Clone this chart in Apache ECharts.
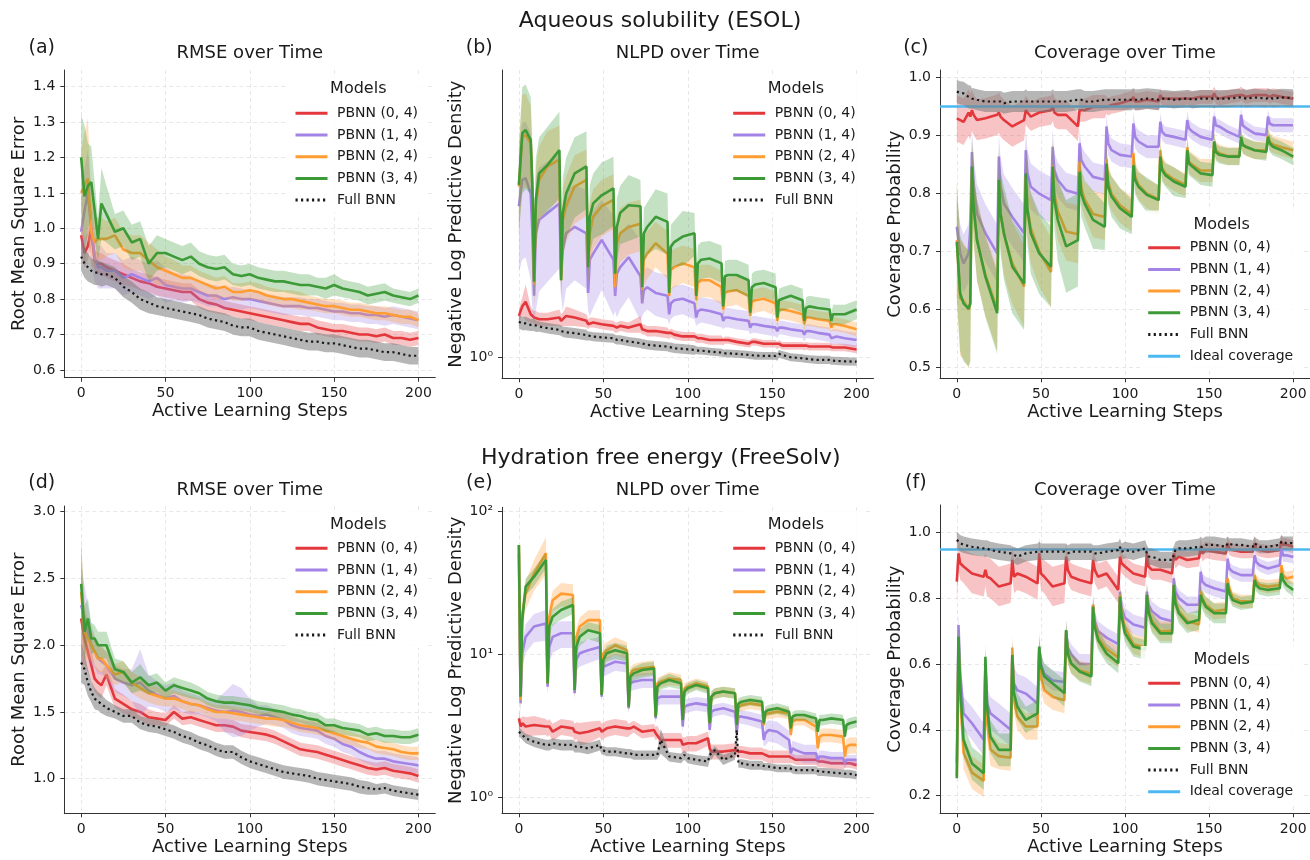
<!DOCTYPE html>
<html>
<head>
<meta charset="utf-8">
<title>PBNN active learning</title>
<script src="https://cdn.jsdelivr.net/npm/echarts@6/dist/echarts.min.js"></script>
<style>
  html, body { margin: 0; padding: 0; background: #fff; }
  #chart { width: 1310px; height: 860px; }
</style>
</head>
<body>
<div id="chart"></div>
<script>
// ---- x positions (active learning steps) ----
var stepsRmse = [0,2,4,6,8,10,12,15,20,25,30,35,40,45,50,55,60,65,70,75,80,85,90,95,100,
  105,110,115,120,125,130,135,140,145,150,155,160,165,170,175,180,185,190,195,200];
var stepsEsol = [0,2,4,7,8, 9,10,12,17,24, 25,26,28,33,40, 41,42,44,49,56, 57,58,60,65,72,
  73,74,76,81,88, 89,90,92,97,104, 105,106,108,113,120, 121,122,124,129,136, 137,138,140,145,152,
  153,154,156,161,168, 169,170,172,177,184, 185,186,188,193,200];
var stepsFree = [0, 1,2,4,9,16, 17,18,20,25,32, 33,34,36,41,48, 49,50,52,57,64, 65,66,68,73,80,
  81,82,84,89,96, 97,98,100,105,112, 113,114,116,121,128, 129,130,132,137,144, 145,146,148,153,160,
  161,162,164,169,176, 177,178,180,185,192, 193,194,196,200];

var modelNames = ['PBNN (0, 4)', 'PBNN (1, 4)', 'PBNN (2, 4)', 'PBNN (3, 4)', 'Full BNN'];
var idealCoverage = 0.95;

// ---- (a) ESOL RMSE ----
var esolRmseP0 = [0.98,0.93,0.95,1.00,0.91,0.90,0.90,0.89,0.88,0.87,0.86,0.85,0.845,0.835,0.83,0.825,0.82,0.82,0.80,0.79,
  0.785,0.775,0.77,0.765,0.76,0.755,0.75,0.745,0.74,0.735,0.73,0.73,0.72,0.715,0.71,0.71,0.705,0.70,0.70,0.695,0.70,0.69,0.69,0.685,0.69];
var esolRmseP1 = [0.99,1.05,1.10,1.00,0.92,0.89,0.89,0.88,0.88,0.86,0.87,0.86,0.85,0.86,0.84,0.835,0.83,0.83,0.82,0.81,
  0.81,0.80,0.805,0.80,0.80,0.795,0.79,0.785,0.78,0.78,0.78,0.775,0.775,0.77,0.765,0.765,0.76,0.76,0.755,0.755,0.75,0.755,0.75,0.745,0.74];
var esolRmseP2 = [1.10,1.12,1.14,0.99,0.96,0.97,0.97,0.97,0.98,0.94,0.93,0.93,0.91,0.89,0.88,0.87,0.86,0.86,0.85,0.84,
  0.83,0.835,0.82,0.82,0.825,0.82,0.81,0.805,0.80,0.80,0.795,0.79,0.785,0.78,0.78,0.775,0.77,0.77,0.765,0.76,0.76,0.755,0.75,0.75,0.74];
var esolRmseP3 = [1.20,1.09,1.12,1.13,1.05,0.97,1.07,1.04,0.99,1.00,0.96,0.97,0.90,0.93,0.93,0.92,0.91,0.92,0.90,0.89,
  0.885,0.89,0.87,0.865,0.87,0.86,0.855,0.85,0.85,0.845,0.84,0.84,0.835,0.83,0.84,0.83,0.825,0.82,0.81,0.815,0.82,0.81,0.805,0.80,0.81];
var esolRmseFull = [0.92,0.90,0.89,0.88,0.875,0.875,0.87,0.87,0.86,0.835,0.82,0.80,0.79,0.78,0.775,0.77,0.765,0.76,0.755,0.745,
  0.74,0.735,0.725,0.72,0.72,0.71,0.705,0.70,0.695,0.69,0.685,0.68,0.68,0.675,0.675,0.67,0.665,0.66,0.66,0.655,0.65,0.65,0.645,0.64,0.64];
var esolRmseP0Sd = [0.05,0.04,0.04,0.05,0.03,0.03,0.03,0.03,0.03,0.03,0.025,0.025,0.025,0.025,0.025,0.025,0.025,0.025,0.025,0.025,
  0.025,0.02,0.02,0.02,0.02,0.02,0.02,0.02,0.02,0.02,0.02,0.02,0.02,0.02,0.02,0.02,0.02,0.02,0.02,0.02,0.02,0.02,0.02,0.02,0.02];
var esolRmseP1Sd = [0.08,0.12,0.12,0.1,0.07,0.06,0.06,0.05,0.05,0.05,0.05,0.05,0.05,0.05,0.05,0.04,0.04,0.035,0.03,0.03,
  0.03,0.03,0.03,0.03,0.025,0.025,0.025,0.025,0.025,0.025,0.025,0.025,0.025,0.025,0.025,0.025,0.025,0.025,0.025,0.025,0.025,0.025,0.025,0.025,0.025];
var esolRmseP2Sd = [0.12,0.15,0.17,0.1,0.07,0.06,0.06,0.05,0.05,0.05,0.05,0.05,0.05,0.05,0.04,0.04,0.035,0.035,0.03,0.03,
  0.03,0.03,0.025,0.025,0.025,0.025,0.025,0.025,0.025,0.025,0.025,0.02,0.02,0.02,0.02,0.02,0.02,0.02,0.02,0.02,0.02,0.02,0.02,0.02,0.02];
var esolRmseP3Sd = [0.12,0.2,0.12,0.1,0.08,0.06,0.1,0.08,0.05,0.05,0.05,0.05,0.05,0.05,0.04,0.04,0.04,0.04,0.035,0.035,
  0.035,0.035,0.03,0.03,0.03,0.03,0.03,0.03,0.03,0.03,0.03,0.03,0.025,0.03,0.03,0.025,0.025,0.025,0.025,0.025,0.025,0.02,0.02,0.02,0.02];
var esolRmseFullSd = [0.04,0.04,0.04,0.035,0.035,0.035,0.035,0.03,0.03,0.03,0.03,0.03,0.03,0.025,0.025,0.025,0.025,0.025,0.025,0.025,
  0.025,0.025,0.025,0.025,0.025,0.025,0.025,0.025,0.025,0.025,0.025,0.025,0.025,0.025,0.025,0.025,0.025,0.025,0.025,0.025,0.025,0.025,0.025,0.025,0.025];

// ---- (b) ESOL NLPD ----
var esolNlpdP0 = [1.23,1.29,1.32,1.24,1.23, 1.22,1.22,1.21,1.21,1.22, 1.20,1.21,1.23,1.22,1.20, 1.18,1.19,1.19,1.18,1.17,
  1.16,1.16,1.17,1.16,1.18, 1.15,1.15,1.14,1.14,1.13, 1.12,1.13,1.12,1.11,1.11, 1.10,1.10,1.10,1.09,1.09,
  1.08,1.09,1.09,1.08,1.07, 1.07,1.08,1.08,1.07,1.07, 1.06,1.07,1.06,1.06,1.06, 1.055,1.06,1.055,1.055,1.055, 1.05,1.05,1.05,1.05,1.04];
var esolNlpdP1 = [2.13,2.43,2.45,2.27,1.86, 1.36,1.86,1.99,2.06,2.16, 1.50,1.71,1.86,1.92,1.86, 1.38,1.63,1.68,1.80,1.63,
  1.36,1.52,1.57,1.65,1.50, 1.31,1.40,1.42,1.38,1.36, 1.24,1.31,1.33,1.34,1.31, 1.22,1.26,1.27,1.26,1.24,
  1.20,1.22,1.22,1.21,1.20, 1.16,1.18,1.18,1.17,1.16, 1.14,1.16,1.16,1.15,1.14, 1.12,1.14,1.14,1.13,1.12, 1.10,1.11,1.11,1.10,1.09];
var esolNlpdP2 = [2.35,3.02,3.04,2.92,2.35, 1.44,2.13,2.43,2.60,2.69, 1.47,1.99,2.13,2.35,2.43, 1.57,1.86,2.02,2.13,2.20,
  1.42,1.77,1.86,1.92,1.95, 1.40,1.63,1.68,1.77,1.68, 1.36,1.55,1.57,1.60,1.57, 1.33,1.45,1.47,1.47,1.42,
  1.27,1.38,1.39,1.40,1.36, 1.23,1.32,1.33,1.34,1.31, 1.20,1.27,1.27,1.26,1.24, 1.18,1.22,1.22,1.21,1.20, 1.16,1.18,1.18,1.17,1.15];
var esolNlpdP3 = [2.37,3.07,3.12,2.97,2.35, 1.46,2.20,2.51,2.62,2.82, 1.47,2.06,2.27,2.51,2.60, 1.57,2.02,2.16,2.25,2.33,
  1.52,1.92,2.06,2.14,2.13, 1.42,1.86,1.92,2.02,1.97, 1.38,1.74,1.78,1.83,1.86, 1.36,1.60,1.63,1.64,1.60,
  1.29,1.50,1.51,1.51,1.47, 1.25,1.42,1.44,1.45,1.42, 1.22,1.33,1.34,1.36,1.33, 1.20,1.28,1.29,1.28,1.27, 1.20,1.24,1.24,1.24,1.27];
var esolNlpdFull = [1.195,1.185,1.185,1.176,1.176, 1.176,1.17,1.166,1.157,1.147, 1.143,1.137,1.133,1.128,1.118, 1.113,1.113,1.109,1.105,1.10,
  1.094,1.091,1.091,1.082,1.073, 1.069,1.069,1.064,1.06,1.055, 1.051,1.051,1.046,1.043,1.037, 1.037,1.034,1.034,1.029,1.024,
  1.02,1.02,1.02,1.017,1.012, 1.01,1.01,1.008,1.007,1.007, 1.003,1.017,1.012,1.0,0.995, 0.993,0.993,0.99,0.987,0.987, 0.983,0.983,0.982,0.98,0.978];
var esolNlpdP0Sd = [0.04,0.06,0.12,0.05,0.04, 0.04,0.04,0.04,0.04,0.05, 0.04,0.04,0.06,0.05,0.04, 0.03,0.03,0.03,0.03,0.03,
  0.03,0.03,0.03,0.03,0.05, 0.03,0.03,0.03,0.03,0.03, 0.025,0.025,0.025,0.025,0.025, 0.025,0.025,0.025,0.025,0.025,
  0.02,0.02,0.02,0.02,0.02, 0.02,0.02,0.02,0.02,0.02, 0.02,0.02,0.02,0.02,0.02, 0.02,0.02,0.02,0.02,0.02, 0.02,0.02,0.02,0.02,0.02];
var esolNlpdP1Sd = [0.6,0.8,0.8,0.8,0.6, 0.15,0.6,0.6,0.6,0.6, 0.15,0.45,0.45,0.45,0.45, 0.12,0.4,0.4,0.4,0.4,
  0.1,0.3,0.3,0.3,0.3, 0.08,0.15,0.15,0.15,0.15, 0.06,0.1,0.1,0.1,0.1, 0.05,0.08,0.08,0.08,0.08,
  0.05,0.06,0.06,0.06,0.06, 0.04,0.05,0.05,0.05,0.05, 0.04,0.04,0.04,0.04,0.04, 0.04,0.04,0.04,0.04,0.04, 0.04,0.04,0.04,0.04,0.04];
var esolNlpdP2Sd = [0.5,0.7,0.7,0.6,0.5, 0.15,0.45,0.45,0.5,0.5, 0.12,0.35,0.35,0.4,0.4, 0.12,0.3,0.3,0.3,0.3,
  0.1,0.25,0.25,0.25,0.25, 0.1,0.2,0.2,0.2,0.2, 0.08,0.15,0.15,0.15,0.15, 0.07,0.12,0.12,0.12,0.12,
  0.06,0.1,0.1,0.1,0.1, 0.05,0.08,0.08,0.08,0.08, 0.04,0.06,0.06,0.06,0.06, 0.04,0.05,0.05,0.05,0.05, 0.03,0.04,0.04,0.04,0.04];
var esolNlpdP3Sd = [0.5,0.8,0.8,0.7,0.5, 0.15,0.5,0.5,0.55,0.6, 0.12,0.4,0.45,0.5,0.5, 0.12,0.35,0.35,0.4,0.4,
  0.1,0.3,0.3,0.35,0.3, 0.1,0.25,0.25,0.3,0.3, 0.08,0.2,0.2,0.25,0.2, 0.08,0.15,0.15,0.15,0.15,
  0.06,0.12,0.12,0.12,0.12, 0.05,0.1,0.1,0.1,0.1, 0.05,0.08,0.08,0.08,0.08, 0.04,0.07,0.07,0.07,0.07, 0.04,0.06,0.06,0.06,0.06];
var esolNlpdFullSd = [0.04,0.04,0.04,0.035,0.035, 0.035,0.035,0.03,0.03,0.03, 0.03,0.03,0.03,0.03,0.03, 0.025,0.025,0.025,0.025,0.025,
  0.025,0.025,0.025,0.025,0.025, 0.025,0.025,0.025,0.025,0.025, 0.025,0.025,0.025,0.025,0.025, 0.02,0.02,0.02,0.02,0.02,
  0.02,0.02,0.02,0.02,0.02, 0.02,0.02,0.02,0.02,0.02, 0.02,0.02,0.02,0.02,0.02, 0.02,0.02,0.02,0.02,0.02, 0.02,0.02,0.02,0.02,0.02];

// ---- (c) ESOL coverage ----
var esolCovP0 = [0.93,0.927,0.924,0.94,0.933, 0.944,0.936,0.927,0.93,0.936, 0.94,0.933,0.927,0.916,0.927, 0.944,0.94,0.933,0.94,0.944,
  0.95,0.94,0.936,0.936,0.916, 0.944,0.944,0.944,0.95,0.95, 0.953,0.95,0.953,0.956,0.962, 0.967,0.959,0.959,0.962,0.959,
  0.97,0.964,0.964,0.964,0.964, 0.967,0.964,0.964,0.967,0.967, 0.973,0.967,0.964,0.967,0.97, 0.973,0.97,0.967,0.97,0.97, 0.97,0.967,0.97,0.967,0.964];
var esolCovP1 = [0.743,0.697,0.68,0.697,0.74, 0.872,0.812,0.766,0.732,0.697, 0.864,0.812,0.783,0.760,0.732, 0.875,0.835,0.812,0.80,0.789,
  0.881,0.841,0.824,0.806,0.80, 0.887,0.858,0.847,0.829,0.824, 0.916,0.887,0.875,0.867,0.864, 0.921,0.898,0.890,0.881,0.881,
  0.924,0.907,0.901,0.898,0.893, 0.927,0.913,0.907,0.898,0.893, 0.933,0.918,0.916,0.907,0.898, 0.936,0.918,0.913,0.904,0.901, 0.933,0.921,0.918,0.918,0.918];
var esolCovP2 = [0.72,0.62,0.615,0.60,0.61, 0.84,0.775,0.72,0.66,0.60, 0.82,0.765,0.73,0.68,0.64, 0.83,0.775,0.74,0.70,0.665,
  0.85,0.80,0.77,0.735,0.73, 0.855,0.81,0.79,0.765,0.76, 0.86,0.82,0.80,0.78,0.765, 0.87,0.83,0.815,0.80,0.79,
  0.875,0.845,0.835,0.825,0.815, 0.88,0.855,0.85,0.84,0.84, 0.89,0.875,0.87,0.865,0.865, 0.895,0.885,0.88,0.875,0.875, 0.90,0.89,0.885,0.88,0.875];
var esolCovP3 = [0.717,0.628,0.611,0.602,0.611, 0.847,0.778,0.720,0.657,0.594, 0.824,0.766,0.732,0.674,0.645, 0.835,0.772,0.732,0.697,0.674,
  0.847,0.789,0.755,0.709,0.72, 0.838,0.80,0.783,0.755,0.743, 0.852,0.812,0.795,0.775,0.760, 0.849,0.824,0.812,0.798,0.789,
  0.864,0.841,0.832,0.821,0.812, 0.875,0.852,0.847,0.835,0.832, 0.890,0.872,0.867,0.864,0.864, 0.898,0.884,0.881,0.875,0.872, 0.898,0.887,0.881,0.875,0.864];
var esolCovFull = [0.976,0.974,0.973,0.967,0.967, 0.964,0.964,0.962,0.959,0.959, 0.959,0.959,0.956,0.959,0.959, 0.962,0.959,0.959,0.959,0.959,
  0.962,0.959,0.959,0.959,0.962, 0.962,0.962,0.959,0.959,0.962, 0.962,0.962,0.962,0.962,0.962, 0.964,0.962,0.962,0.964,0.962,
  0.964,0.964,0.964,0.962,0.964, 0.964,0.964,0.962,0.964,0.964, 0.962,0.964,0.964,0.964,0.966, 0.964,0.966,0.964,0.966,0.964, 0.966,0.966,0.964,0.966,0.965];
var esolCovP0Sd = [0.04,0.04,0.04,0.04,0.04, 0.035,0.035,0.035,0.035,0.035, 0.035,0.035,0.035,0.035,0.035, 0.025,0.025,0.025,0.025,0.025,
  0.025,0.025,0.025,0.025,0.025, 0.02,0.02,0.02,0.02,0.02, 0.015,0.015,0.015,0.015,0.015, 0.015,0.015,0.015,0.015,0.015,
  0.012,0.012,0.012,0.012,0.012, 0.012,0.012,0.012,0.012,0.012, 0.012,0.012,0.012,0.012,0.012, 0.012,0.012,0.012,0.012,0.012, 0.012,0.012,0.012,0.012,0.012];
var esolCovP1Sd = [0.05,0.05,0.05,0.05,0.05, 0.04,0.05,0.05,0.05,0.05, 0.04,0.05,0.05,0.05,0.05, 0.04,0.04,0.04,0.04,0.04,
  0.03,0.03,0.03,0.03,0.03, 0.025,0.025,0.025,0.025,0.025, 0.02,0.02,0.02,0.02,0.02, 0.02,0.02,0.02,0.02,0.02,
  0.015,0.015,0.015,0.015,0.015, 0.015,0.015,0.015,0.015,0.015, 0.012,0.012,0.012,0.012,0.012, 0.012,0.012,0.012,0.012,0.012, 0.012,0.012,0.012,0.012,0.012];
var esolCovP2Sd = [0.1,0.1,0.1,0.1,0.1, 0.05,0.06,0.07,0.07,0.07, 0.05,0.06,0.07,0.07,0.07, 0.05,0.05,0.06,0.06,0.06,
  0.04,0.04,0.05,0.05,0.05, 0.03,0.03,0.03,0.04,0.04, 0.03,0.03,0.03,0.03,0.03, 0.025,0.025,0.025,0.025,0.025,
  0.02,0.02,0.02,0.02,0.02, 0.02,0.02,0.02,0.02,0.02, 0.015,0.015,0.015,0.015,0.015, 0.015,0.015,0.015,0.015,0.015, 0.015,0.015,0.015,0.015,0.015];
var esolCovP3Sd = [0.1,0.1,0.1,0.1,0.1, 0.05,0.06,0.07,0.07,0.07, 0.05,0.07,0.08,0.08,0.08, 0.05,0.06,0.07,0.07,0.07,
  0.04,0.05,0.07,0.08,0.08, 0.04,0.04,0.04,0.05,0.04, 0.03,0.03,0.035,0.035,0.03, 0.025,0.025,0.025,0.03,0.025,
  0.02,0.02,0.02,0.025,0.02, 0.02,0.02,0.02,0.02,0.02, 0.015,0.015,0.015,0.015,0.015, 0.015,0.015,0.015,0.015,0.015, 0.015,0.015,0.015,0.015,0.015];
var esolCovFullSd = [0.02,0.02,0.02,0.02,0.02, 0.018,0.018,0.018,0.018,0.018, 0.018,0.018,0.018,0.018,0.018, 0.018,0.018,0.018,0.018,0.018,
  0.018,0.018,0.018,0.018,0.018, 0.018,0.018,0.018,0.018,0.018, 0.018,0.018,0.018,0.018,0.018, 0.018,0.018,0.018,0.018,0.018,
  0.015,0.015,0.015,0.015,0.015, 0.015,0.015,0.015,0.015,0.015, 0.015,0.015,0.015,0.015,0.015, 0.015,0.015,0.015,0.015,0.015, 0.015,0.015,0.015,0.015,0.015];

// ---- (d) FreeSolv RMSE ----
var freeRmseP0 = [2.20,2.05,1.95,1.85,1.75,1.72,1.70,1.78, 1.60,1.56,1.52,1.50,1.46,1.45,1.44,1.50,1.45,1.46,
  1.44,1.42,1.40,1.40,1.39,1.36,1.35,1.34,1.33,1.31, 1.28,1.25,1.22,1.21,1.20,1.18,1.16,1.14,1.12,1.10, 1.08,1.07,1.08,1.06,1.05,1.04,1.02];
var freeRmseP1 = [2.30,2.20,2.10,2.00,1.95,1.90,1.88,1.85, 1.75,1.72,1.70,1.72,1.66,1.63,1.60,1.62,1.58,1.56,
  1.55,1.53,1.51,1.50,1.51,1.50,1.48,1.47,1.48,1.46, 1.44,1.40,1.38,1.37,1.36,1.32,1.30,1.26,1.24,1.20, 1.17,1.15,1.15,1.13,1.12,1.11,1.10];
var freeRmseP2 = [2.40,2.10,2.05,2.00,1.95,1.90,1.90,1.85, 1.78,1.80,1.72,1.68,1.64,1.62,1.60,1.60,1.58,1.56,
  1.55,1.52,1.50,1.50,1.49,1.48,1.47,1.46,1.45,1.45, 1.44,1.42,1.40,1.39,1.38,1.36,1.34,1.32,1.30,1.28, 1.27,1.24,1.23,1.22,1.20,1.19,1.19];
var freeRmseP3 = [2.46,2.10,2.20,2.05,2.05,2.00,2.00,2.00, 1.82,1.80,1.72,1.76,1.70,1.72,1.66,1.70,1.68,1.66,
  1.64,1.60,1.58,1.57,1.57,1.56,1.55,1.53,1.52,1.51, 1.50,1.48,1.47,1.45,1.44,1.40,1.40,1.38,1.37,1.36, 1.33,1.34,1.32,1.32,1.31,1.31,1.33];
var freeRmseFull = [1.87,1.82,1.72,1.65,1.60,1.58,1.56,1.53, 1.50,1.47,1.47,1.42,1.40,1.39,1.37,1.35,1.32,1.30,
  1.27,1.25,1.22,1.20,1.20,1.16,1.13,1.11,1.09,1.07, 1.05,1.04,1.03,1.02,1.00,0.99,0.98,0.97,0.96,0.94, 0.93,0.92,0.93,0.91,0.90,0.89,0.88];
var freeRmseP0Sd = [0.35,0.2,0.15,0.12,0.1,0.1,0.1,0.08, 0.07,0.07,0.06,0.06,0.06,0.05,0.05,0.05,0.05,0.05,
  0.05,0.05,0.05,0.05,0.05,0.05,0.05,0.05,0.05,0.05, 0.05,0.05,0.05,0.05,0.05,0.05,0.05,0.05,0.05,0.05, 0.05,0.05,0.05,0.05,0.05,0.05,0.05];
var freeRmseP1Sd = [0.3,0.25,0.2,0.15,0.12,0.12,0.1,0.1, 0.1,0.1,0.12,0.25,0.12,0.1,0.1,0.1,0.08,0.08,
  0.07,0.07,0.08,0.15,0.2,0.18,0.12,0.08,0.07,0.06, 0.06,0.06,0.06,0.06,0.06,0.06,0.06,0.06,0.06,0.06, 0.06,0.06,0.06,0.06,0.06,0.06,0.06];
var freeRmseP2Sd = [0.4,0.2,0.15,0.12,0.1,0.1,0.1,0.1, 0.08,0.08,0.08,0.08,0.07,0.07,0.06,0.06,0.06,0.06,
  0.05,0.05,0.05,0.05,0.05,0.05,0.05,0.05,0.05,0.06, 0.05,0.05,0.05,0.05,0.05,0.05,0.05,0.05,0.05,0.05, 0.05,0.05,0.05,0.05,0.05,0.05,0.05];
var freeRmseP3Sd = [0.3,0.2,0.15,0.12,0.1,0.1,0.1,0.1, 0.08,0.08,0.08,0.1,0.07,0.07,0.06,0.06,0.06,0.06,
  0.05,0.05,0.05,0.05,0.05,0.05,0.05,0.05,0.05,0.05, 0.05,0.05,0.05,0.05,0.05,0.05,0.05,0.05,0.05,0.05, 0.05,0.05,0.05,0.05,0.05,0.05,0.05];
var freeRmseFullSd = [0.15,0.12,0.1,0.08,0.08,0.07,0.07,0.06, 0.05,0.05,0.05,0.05,0.05,0.05,0.05,0.05,0.05,0.05,
  0.05,0.05,0.05,0.05,0.05,0.05,0.05,0.05,0.05,0.05, 0.05,0.05,0.05,0.05,0.05,0.05,0.05,0.05,0.05,0.05, 0.05,0.04,0.04,0.04,0.04,0.04,0.04];

// ---- (e) FreeSolv NLPD ----
var freeNlpdP0 = [3.57, 3.13,3.30,3.13,3.21,3.13, 3.04,3.13,2.88,3.13,3.04, 2.88,2.96,2.81,2.88,3.04, 2.88,2.96,3.04,3.13,3.04,
  2.96,3.04,3.13,2.88,2.96, 2.81,2.88,2.52,2.52,2.52, 2.33,2.33,2.39,2.39,2.59, 2.2,2.09,2.09,2.09,2.14,
  2.14,2.09,2.09,2.03,2.03, 1.98,1.98,1.93,1.93,1.93, 1.88,1.88,1.83,1.83,1.83, 1.78,1.78,1.78,1.73,1.73, 1.73,1.73,1.73,1.68];
var freeNlpdP1 = [51, 4.55,10.2,13.3,15.7,16.5, 5.96,11.3,13.3,14.1,14.1, 5.35,9.15,10.2,10.7,11.3, 5.07,8.2,8.4,8.9,8.66,
  4.2,6.28,6.45,6.63,6.63, 3.57,4.93,5.07,5.07,5.07, 3.13,4.31,4.42,4.55,4.42, 2.96,3.98,4.09,4.2,3.98,
  2.81,3.67,3.67,3.57,3.39, 2.52,2.81,2.96,2.88,2.52, 2.03,2.2,2.14,2.03,2.03, 1.83,1.93,1.93,1.88,1.88, 1.73,1.83,1.83,1.83];
var freeNlpdP2 = [58.4, 4.8,19.4,26.7,37.0,51.2, 6.28,18.4,24.0,26.7,26.1, 5.64,13.3,15.7,17.4,17.4, 5.2,10.2,10.7,11.6,10.7,
  4.31,7.38,7.79,8.0,8.2, 3.67,6.28,6.45,6.8,6.63, 3.48,5.8,5.96,6.28,5.96, 3.30,5.07,5.35,5.5,5.35,
  3.21,4.31,4.42,4.55,4.42, 3.21,3.87,3.87,3.98,3.87, 2.73,3.39,3.48,3.48,3.13, 2.2,2.66,2.73,2.73,2.66, 1.93,2.26,2.33,2.33];
var freeNlpdP3 = [58.4, 5.07,17.4,29.9,35.1,45.9, 6.28,15.7,18.4,20.5,22.2, 5.64,11.3,13.3,14.8,14.1, 5.2,9.15,10.2,10.7,10.2,
  4.31,7.0,7.38,7.79,8.0, 3.67,5.96,6.28,6.63,6.28, 3.48,5.5,5.8,6.12,5.8, 3.30,5.07,5.35,5.5,5.35,
  3.21,4.55,4.67,4.8,4.67, 3.30,3.98,4.09,4.2,3.98, 3.04,3.67,3.77,3.77,3.57, 2.88,3.48,3.48,3.57,3.48, 2.66,3.21,3.30,3.39];
var freeNlpdFull = [2.88, 2.81,2.73,2.59,2.45,2.33, 2.33,2.33,2.39,2.33,2.33, 2.26,2.26,2.26,2.2,2.33, 2.14,2.14,2.09,2.09,2.03,
  2.03,2.03,1.98,1.98,1.98, 1.98,1.98,2.52,1.93,1.88, 1.93,1.98,1.88,1.83,1.78, 1.98,1.98,2.14,1.83,1.98,
  2.96,1.73,1.73,1.68,1.68, 1.64,1.64,1.64,1.60,1.60, 1.60,1.57,1.55,1.55,1.55, 1.51,1.51,1.51,1.49,1.47, 1.46,1.46,1.46,1.43];
var freeNlpdP0Sd = [0.5, 0.4,0.4,0.5,0.5,0.4, 0.4,0.4,0.4,0.4,0.4, 0.4,0.4,0.5,0.5,0.4, 0.4,0.4,0.4,0.4,0.4,
  0.3,0.3,0.3,0.3,0.3, 0.3,0.3,0.3,0.3,0.3, 0.3,0.3,0.3,0.3,0.3, 0.25,0.25,0.25,0.25,0.25,
  0.2,0.2,0.2,0.2,0.2, 0.2,0.2,0.2,0.2,0.2, 0.15,0.15,0.15,0.15,0.15, 0.15,0.15,0.15,0.15,0.15, 0.12,0.12,0.12,0.12];
var freeNlpdP1Sd = [5, 0.8,2,3,3.5,4, 0.8,2.5,3,3,3, 0.6,1.5,2,2,2, 0.5,1.2,1.2,1.2,1.2,
  0.4,0.8,0.8,0.8,0.8, 0.3,0.6,0.6,0.6,0.6, 0.3,0.5,0.5,0.5,0.5, 0.3,0.4,0.4,0.4,0.4,
  0.25,0.4,0.4,0.4,0.4, 0.25,0.5,0.5,0.5,0.4, 0.2,0.3,0.3,0.3,0.3, 0.15,0.2,0.2,0.2,0.2, 0.15,0.15,0.15,0.15];
var freeNlpdP2Sd = [5, 0.8,4,6,9,15, 0.8,3,4,5,5, 0.6,2,2.5,3,3, 0.5,1.5,1.5,1.6,1.5,
  0.4,0.8,0.8,0.9,0.9, 0.3,0.6,0.6,0.7,0.6, 0.3,0.5,0.5,0.5,0.5, 0.3,0.45,0.45,0.45,0.45,
  0.25,0.4,0.4,0.4,0.4, 0.25,0.35,0.35,0.35,0.35, 0.2,0.3,0.3,0.3,0.3, 0.2,0.3,0.3,0.3,0.3, 0.2,0.3,0.3,0.3];
var freeNlpdP3Sd = [5, 0.8,3,4,5,6, 0.8,2,2.5,3,3, 0.6,1.5,1.8,2,2, 0.5,1.2,1.3,1.4,1.3,
  0.4,0.8,0.8,0.9,0.9, 0.3,0.6,0.6,0.7,0.6, 0.3,0.5,0.5,0.5,0.5, 0.3,0.45,0.45,0.45,0.45,
  0.25,0.4,0.4,0.4,0.4, 0.25,0.35,0.35,0.35,0.35, 0.2,0.3,0.3,0.3,0.3, 0.2,0.3,0.3,0.3,0.3, 0.2,0.3,0.3,0.3];
var freeNlpdFullSd = [0.25, 0.2,0.2,0.2,0.2,0.2, 0.2,0.2,0.2,0.2,0.2, 0.2,0.2,0.2,0.2,0.2, 0.15,0.15,0.15,0.15,0.15,
  0.15,0.15,0.15,0.15,0.15, 0.15,0.15,0.5,0.15,0.15, 0.15,0.15,0.15,0.15,0.15, 0.15,0.15,0.15,0.15,0.15,
  0.3,0.12,0.12,0.12,0.12, 0.1,0.1,0.1,0.1,0.1, 0.1,0.1,0.1,0.1,0.1, 0.1,0.1,0.1,0.1,0.1, 0.1,0.1,0.1,0.1];

// ---- (f) FreeSolv coverage ----
var freeCovP0 = [0.85, 0.936,0.906,0.896,0.875,0.865, 0.886,0.865,0.86,0.835,0.845, 0.916,0.865,0.875,0.865,0.845, 0.936,0.875,0.865,0.835,0.845,
  0.926,0.886,0.865,0.855,0.845, 0.916,0.886,0.865,0.875,0.825, 0.926,0.906,0.896,0.875,0.865, 0.936,0.896,0.886,0.886,0.875,
  0.936,0.916,0.926,0.916,0.921, 0.956,0.936,0.946,0.941,0.936, 0.967,0.951,0.946,0.941,0.941, 0.967,0.951,0.946,0.941,0.946, 0.972,0.962,0.962,0.956];
var freeCovP1 = [0.30, 0.718,0.572,0.45,0.42,0.37, 0.60,0.48,0.45,0.43,0.40, 0.63,0.54,0.52,0.51,0.48, 0.65,0.60,0.57,0.55,0.545,
  0.70,0.65,0.63,0.60,0.60, 0.78,0.73,0.70,0.68,0.66, 0.82,0.77,0.74,0.72,0.71, 0.82,0.78,0.76,0.74,0.73,
  0.86,0.82,0.80,0.78,0.78, 0.88,0.85,0.84,0.83,0.82, 0.92,0.89,0.88,0.87,0.87, 0.93,0.91,0.90,0.89,0.90, 0.95,0.93,0.93,0.925];
var freeCovP2 = [0.26, 0.67,0.50,0.33,0.27,0.245, 0.60,0.42,0.34,0.32,0.315, 0.65,0.49,0.44,0.41,0.41, 0.64,0.56,0.52,0.50,0.49,
  0.70,0.63,0.60,0.58,0.57, 0.78,0.72,0.68,0.645,0.62, 0.81,0.75,0.71,0.66,0.65, 0.81,0.76,0.73,0.70,0.70,
  0.84,0.79,0.76,0.73,0.72, 0.82,0.80,0.78,0.76,0.765, 0.86,0.83,0.80,0.79,0.79, 0.87,0.85,0.84,0.835,0.84, 0.90,0.87,0.86,0.865];
var freeCovP3 = [0.253, 0.683,0.531,0.369,0.298,0.268, 0.622,0.470,0.379,0.339,0.339, 0.627,0.511,0.470,0.430,0.450, 0.653,0.592,0.562,0.541,0.511,
  0.703,0.632,0.602,0.577,0.562, 0.774,0.713,0.673,0.632,0.602, 0.805,0.744,0.693,0.653,0.643, 0.810,0.759,0.724,0.693,0.693,
  0.840,0.784,0.754,0.724,0.734, 0.810,0.794,0.774,0.754,0.754, 0.845,0.815,0.794,0.784,0.789, 0.855,0.840,0.830,0.825,0.830, 0.875,0.855,0.840,0.825];
var freeCovFull = [0.977, 0.972,0.967,0.962,0.956,0.951, 0.951,0.951,0.946,0.941,0.936, 0.931,0.931,0.926,0.936,0.941, 0.946,0.941,0.941,0.941,0.941,
  0.941,0.936,0.941,0.941,0.941, 0.936,0.936,0.936,0.941,0.946, 0.956,0.941,0.946,0.941,0.951, 0.936,0.926,0.926,0.916,0.916,
  0.931,0.946,0.951,0.951,0.956, 0.962,0.956,0.962,0.962,0.956, 0.967,0.962,0.962,0.962,0.956, 0.967,0.962,0.956,0.956,0.962, 0.972,0.967,0.967,0.967];
var freeCovP0Sd = [0.06, 0.05,0.05,0.05,0.06,0.06, 0.05,0.06,0.06,0.06,0.06, 0.05,0.05,0.05,0.05,0.05, 0.05,0.05,0.05,0.06,0.06,
  0.04,0.04,0.04,0.04,0.04, 0.04,0.04,0.04,0.04,0.04, 0.03,0.03,0.03,0.03,0.03, 0.03,0.03,0.03,0.03,0.03,
  0.025,0.025,0.025,0.025,0.025, 0.025,0.025,0.025,0.025,0.025, 0.02,0.02,0.02,0.02,0.02, 0.02,0.02,0.02,0.02,0.02, 0.02,0.02,0.02,0.02];
var freeCovP1Sd = [0.03, 0.04,0.05,0.05,0.05,0.05, 0.04,0.05,0.05,0.05,0.05, 0.04,0.05,0.05,0.05,0.05, 0.03,0.03,0.03,0.03,0.03,
  0.03,0.03,0.03,0.03,0.03, 0.03,0.03,0.03,0.03,0.03, 0.03,0.03,0.03,0.03,0.03, 0.03,0.03,0.03,0.03,0.03,
  0.025,0.025,0.025,0.025,0.025, 0.025,0.025,0.025,0.025,0.025, 0.02,0.02,0.02,0.02,0.02, 0.02,0.02,0.02,0.02,0.02, 0.02,0.02,0.02,0.02];
var freeCovP2Sd = [0.03, 0.04,0.05,0.05,0.05,0.05, 0.04,0.05,0.05,0.04,0.04, 0.04,0.04,0.04,0.04,0.04, 0.04,0.04,0.04,0.04,0.04,
  0.03,0.03,0.03,0.03,0.03, 0.03,0.03,0.03,0.03,0.03, 0.03,0.03,0.03,0.03,0.03, 0.03,0.03,0.03,0.03,0.03,
  0.025,0.025,0.025,0.025,0.025, 0.025,0.025,0.025,0.025,0.025, 0.02,0.02,0.02,0.02,0.02, 0.02,0.02,0.02,0.02,0.02, 0.02,0.02,0.02,0.02];
var freeCovP3Sd = [0.03, 0.04,0.05,0.05,0.05,0.05, 0.04,0.05,0.05,0.05,0.05, 0.04,0.04,0.04,0.04,0.04, 0.04,0.04,0.04,0.04,0.04,
  0.03,0.03,0.03,0.03,0.03, 0.03,0.03,0.03,0.03,0.03, 0.03,0.03,0.03,0.03,0.03, 0.03,0.03,0.03,0.03,0.03,
  0.03,0.03,0.03,0.03,0.03, 0.03,0.03,0.03,0.03,0.03, 0.02,0.02,0.02,0.02,0.02, 0.02,0.02,0.02,0.02,0.02, 0.02,0.02,0.02,0.02];
var freeCovFullSd = [0.025, 0.025,0.025,0.025,0.025,0.025, 0.025,0.025,0.025,0.025,0.025, 0.025,0.025,0.025,0.025,0.025, 0.025,0.025,0.025,0.025,0.025,
  0.025,0.025,0.025,0.025,0.025, 0.025,0.025,0.025,0.025,0.025, 0.025,0.025,0.025,0.025,0.025, 0.025,0.025,0.025,0.025,0.025,
  0.025,0.025,0.025,0.025,0.025, 0.025,0.025,0.025,0.025,0.025, 0.02,0.02,0.02,0.02,0.02, 0.02,0.02,0.02,0.02,0.02, 0.02,0.02,0.02,0.02];

// ---- styling ----
var FONT = '"DejaVu Sans", "Noto Sans", sans-serif';
var TEXT = '#1a1a1a';
var lineColors = ['#e3373c', '#a384e6', '#ff9d33', '#3c9a37', '#1a1a1a'];
var bandColors = ['#e3373c', '#a384e6', '#ff9d33', '#3c9a37', '#7a7a7a'];
var bandAlpha = [0.3, 0.3, 0.3, 0.3, 0.55];
var idealColor = '#4cb8f2';
var sup = { '0': '\u2070', '1': '\u00b9', '2': '\u00b2' };

var panels = [
  { tag: '(a)', title: 'RMSE over Time', yName: 'Root Mean Square Error', box: [64.3, 70, 371, 307.7],
    yType: 'value', yMin: 0.578, yMax: 1.447, ySplit: 8, steps: stepsRmse, ideal: false,
    data: [[esolRmseP0, esolRmseP0Sd], [esolRmseP1, esolRmseP1Sd], [esolRmseP2, esolRmseP2Sd], [esolRmseP3, esolRmseP3Sd], [esolRmseFull, esolRmseFullSd]],
    tagPos: [41.7, 48], titleY: 53.3, legendPos: [288, 76], modelsPos: [358.3, 89.3], nameGap: 36 },
  { tag: '(b)', title: 'NLPD over Time', yName: 'Negative Log Predictive Density', box: [502, 70, 371.5, 308.3],
    yType: 'log', yMin: 0.9, yMax: 4.213, steps: stepsEsol, ideal: false,
    data: [[esolNlpdP0, esolNlpdP0Sd], [esolNlpdP1, esolNlpdP1Sd], [esolNlpdP2, esolNlpdP2Sd], [esolNlpdP3, esolNlpdP3Sd], [esolNlpdFull, esolNlpdFullSd]],
    tagPos: [479.3, 48], titleY: 53.3, legendPos: [725.7, 76], modelsPos: [796, 89.3], nameGap: 37 },
  { tag: '(c)', title: 'Coverage over Time', yName: 'Coverage Probability', box: [940, 70, 370, 308.3],
    yType: 'value', yMin: 0.4817, yMax: 1.0133, ySplit: 5, steps: stepsEsol, ideal: true,
    data: [[esolCovP0, esolCovP0Sd], [esolCovP1, esolCovP1Sd], [esolCovP2, esolCovP2Sd], [esolCovP3, esolCovP3Sd], [esolCovFull, esolCovFullSd]],
    tagPos: [915.8, 48], titleY: 53.3, legendPos: [1140.7, 210.4], modelsPos: [1221.7, 225], nameGap: 36 },
  { tag: '(d)', title: 'RMSE over Time', yName: 'Root Mean Square Error', box: [64.3, 506, 371, 307.3],
    yType: 'value', yMin: 0.7408, yMax: 3.0427, ySplit: 5, steps: stepsRmse, ideal: false,
    data: [[freeRmseP0, freeRmseP0Sd], [freeRmseP1, freeRmseP1Sd], [freeRmseP2, freeRmseP2Sd], [freeRmseP3, freeRmseP3Sd], [freeRmseFull, freeRmseFullSd]],
    tagPos: [41.7, 483.3], titleY: 490, legendPos: [288, 511], modelsPos: [358.3, 525], nameGap: 36 },
  { tag: '(e)', title: 'NLPD over Time', yName: 'Negative Log Predictive Density', box: [502, 507.3, 371.5, 306],
    yType: 'log', yMin: 0.7725, yMax: 107.4, steps: stepsFree, ideal: false,
    data: [[freeNlpdP0, freeNlpdP0Sd], [freeNlpdP1, freeNlpdP1Sd], [freeNlpdP2, freeNlpdP2Sd], [freeNlpdP3, freeNlpdP3Sd], [freeNlpdFull, freeNlpdFullSd]],
    tagPos: [479.3, 483.3], titleY: 490, legendPos: [725.7, 511], modelsPos: [796, 525], nameGap: 37 },
  { tag: '(f)', title: 'Coverage over Time', yName: 'Coverage Probability', box: [940, 505, 370, 308.3],
    yType: 'value', yMin: 0.1464, yMax: 1.0829, ySplit: 5, steps: stepsFree, ideal: true,
    data: [[freeCovP0, freeCovP0Sd], [freeCovP1, freeCovP1Sd], [freeCovP2, freeCovP2Sd], [freeCovP3, freeCovP3Sd], [freeCovFull, freeCovFullSd]],
    tagPos: [915.8, 483.3], titleY: 490, legendPos: [1140.7, 646], modelsPos: [1221.7, 660], nameGap: 36 }
];

function bandSeries(gi, steps, mean, sd, color, alpha, z) {
  return {
    type: 'custom', xAxisIndex: gi, yAxisIndex: gi, z: z, silent: true, animation: false,
    data: [[steps[0], mean[0]]],
    renderItem: function (params, api) {
      var upper = [], lower = [];
      for (var i = 0; i < steps.length; i++) {
        upper.push(api.coord([steps[i], mean[i] + sd[i]]));
        lower.unshift(api.coord([steps[i], mean[i] - sd[i]]));
      }
      return { type: 'polygon', shape: { points: upper.concat(lower) }, style: { fill: color, opacity: alpha } };
    }
  };
}

function lineSeries(gi, name, steps, mean, color, width, dash, z) {
  return {
    type: 'line', name: name, xAxisIndex: gi, yAxisIndex: gi, z: z, silent: true, animation: false,
    data: steps.map(function (s, i) { return [s, mean[i]]; }),
    symbol: 'none', showSymbol: false,
    lineStyle: { color: color, width: width, type: dash },
    itemStyle: { color: color }
  };
}

var axisLineStyle = { color: '#333', width: 1 };
var gridLineStyle = { color: '#e2e2e2', width: 0.8, type: [4, 3] };

var option = {
  animation: false,
  backgroundColor: '#fff',
  textStyle: { fontFamily: FONT },
  grid: [], xAxis: [], yAxis: [], series: [], legend: [],
  graphic: [
    { type: 'text', x: 660, y: 21.7, z: 100, style: { text: 'Aqueous solubility (ESOL)', font: '22px ' + FONT, fill: TEXT, textAlign: 'center', textVerticalAlign: 'middle' } },
    { type: 'text', x: 660.8, y: 458.3, z: 100, style: { text: 'Hydration free energy (FreeSolv)', font: '22px ' + FONT, fill: TEXT, textAlign: 'center', textVerticalAlign: 'middle' } }
  ]
};

panels.forEach(function (p, gi) {
  var b = p.box;
  option.grid.push({ left: b[0], top: b[1], width: b[2], height: b[3], outerBoundsMode: 'none', containLabel: false });
  option.xAxis.push({
    type: 'value', gridIndex: gi, min: -10, max: 210, splitNumber: 5,
    name: 'Active Learning Steps', nameLocation: 'middle', nameGap: 25,
    nameTextStyle: { fontSize: 18, color: TEXT, fontFamily: FONT },
    axisLine: { show: true, onZero: false, lineStyle: axisLineStyle },
    axisTick: { show: true, length: 4, lineStyle: axisLineStyle },
    axisLabel: { fontSize: 14, color: TEXT, margin: 9, showMinLabel: false, showMaxLabel: false },
    splitLine: { show: true, showMinLine: false, showMaxLine: false, lineStyle: gridLineStyle }
  });
  var yAxis = {
    type: p.yType, gridIndex: gi, min: p.yMin, max: p.yMax,
    name: p.yName, nameLocation: 'middle', nameGap: p.nameGap, nameRotate: 90,
    nameTextStyle: { fontSize: 18, color: TEXT, fontFamily: FONT },
    axisLine: { show: true, onZero: false, lineStyle: axisLineStyle },
    axisTick: { show: true, length: 4, lineStyle: axisLineStyle },
    axisLabel: { fontSize: 14, color: TEXT, margin: 9, showMinLabel: false, showMaxLabel: false },
    splitLine: { show: true, showMinLine: false, showMaxLine: false, lineStyle: gridLineStyle }
  };
  if (p.yType === 'log') {
    yAxis.logBase = 10;
    yAxis.axisLabel.formatter = function (v) { return '10' + (sup[String(Math.round(Math.log10(v)))] || ''); };
  } else {
    yAxis.splitNumber = p.ySplit;
    yAxis.axisLabel.formatter = function (v) { return v.toFixed(1); };
  }
  option.yAxis.push(yAxis);

  p.data.forEach(function (pair, k) {
    option.series.push(bandSeries(gi, p.steps, pair[0], pair[1], bandColors[k], bandAlpha[k], 2 + 2 * k));
    var isFull = k === 4;
    option.series.push(lineSeries(gi, modelNames[k], p.steps, pair[0], lineColors[k],
      isFull ? 2.2 : 2.6, isFull ? [2.2, 3.3] : 'solid', 3 + 2 * k));
  });

  var names = modelNames.slice();
  if (p.ideal) {
    names.push('Ideal coverage');
    option.series.push({
      type: 'line', name: 'Ideal coverage', xAxisIndex: gi, yAxisIndex: gi, z: 14, silent: true, animation: false,
      data: [], symbol: 'none',
      lineStyle: { color: idealColor, width: 2.6 }, itemStyle: { color: idealColor },
      markLine: { silent: true, symbol: 'none', animation: false, label: { show: false },
        lineStyle: { color: idealColor, width: 2.6, type: 'solid' }, data: [{ yAxis: idealCoverage }] }
    });
  }

  option.legend.push({
    data: names, orient: 'vertical', left: p.legendPos[0], top: p.legendPos[1],
    padding: [30.3, 8, 6, 6], itemWidth: 32, itemHeight: 14, itemGap: 7.7, z: 20,
    backgroundColor: 'rgba(255,255,255,0.85)', borderWidth: 0, selectedMode: false,
    lineStyle: { width: 3 },
    itemStyle: { color: 'rgba(0,0,0,0)', borderColor: 'rgba(0,0,0,0)', borderWidth: 0, opacity: 0 },
    formatter: function (name) { return ' ' + name; },
    textStyle: { fontSize: 14, color: TEXT, fontFamily: FONT, lineHeight: 14 }
  });

  var cx = b[0] + b[2] / 2;
  option.graphic.push(
    { type: 'text', x: cx, y: p.titleY, z: 100, style: { text: p.title, font: '18px ' + FONT, fill: TEXT, textAlign: 'center', textVerticalAlign: 'middle' } },
    { type: 'text', x: p.tagPos[0], y: p.tagPos[1], z: 100, style: { text: p.tag, font: '19px ' + FONT, fill: TEXT, textAlign: 'center', textVerticalAlign: 'middle' } },
    { type: 'text', x: p.modelsPos[0], y: p.modelsPos[1], z: 100, style: { text: 'Models', font: '16px ' + FONT, fill: TEXT, textAlign: 'center', textVerticalAlign: 'middle' } }
  );
});

var chart = echarts.init(document.getElementById('chart'), null, { renderer: 'canvas' });
chart.setOption(option);
</script>
</body>
</html>
